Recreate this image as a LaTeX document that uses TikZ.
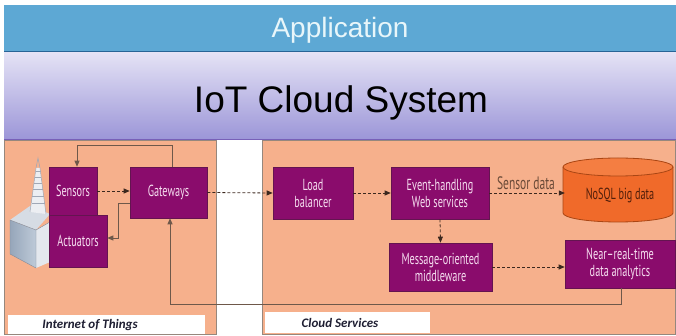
\documentclass[tikz,border=0pt]{standalone}
\usepackage{fontspec}
\setmainfont{Liberation Sans}
\newfontfamily\boxfont[FakeStretch=0.64]{PT Sans}
\newfontfamily\tagfont{Carlito}
\usetikzlibrary{arrows.meta,calc}

\definecolor{appblue}{RGB}{93,168,212}
\definecolor{appline}{RGB}{40,100,150}
\definecolor{apptext}{RGB}{232,246,250}
\definecolor{lavtop}{RGB}{228,226,245}
\definecolor{lavbot}{RGB}{156,150,216}
\definecolor{lavline}{RGB}{120,96,184}
\definecolor{panel}{RGB}{246,176,140}
\definecolor{panelline}{RGB}{150,135,125}
\definecolor{boxfill}{RGB}{138,12,108}
\definecolor{boxline}{RGB}{100,20,80}
\definecolor{boxtext}{RGB}{246,222,240}
\definecolor{arrowc}{RGB}{60,40,30}
\definecolor{loopc}{RGB}{110,88,74}
\definecolor{dbfill}{RGB}{240,106,42}
\definecolor{dbtop}{RGB}{244,126,66}
\definecolor{dbline}{RGB}{170,70,20}
\definecolor{dbtext}{RGB}{80,30,10}
\definecolor{sdtext}{RGB}{106,74,56}
\definecolor{tagtext}{RGB}{30,30,50}
\definecolor{towerline}{RGB}{160,168,182}
\definecolor{towerfill}{RGB}{236,238,242}
\definecolor{faceline}{RGB}{130,138,152}
\definecolor{faceleft}{RGB}{150,166,186}
\definecolor{faceleftlight}{RGB}{190,202,216}
\definecolor{facetop}{RGB}{214,220,228}
\definecolor{faceright}{RGB}{228,232,238}

\tikzset{
  comp/.style={draw=boxline, line width=0.6pt, fill=boxfill, text=boxtext,
    font=\boxfont\fontsize{16}{17}\selectfont, align=center, inner sep=0pt},
  flow/.style={draw=arrowc, line width=0.8pt, dash pattern=on 3pt off 2pt,
    -{Triangle[length=6pt,width=5pt]}},
  feedback/.style={draw=loopc, line width=0.9pt, -{Triangle[length=6pt,width=5pt]}},
  tagbox/.style={fill=white, inner sep=0pt, anchor=north west},
  tagword/.style={text=tagtext, font=\tagfont\bfseries\itshape\fontsize{13}{13}\selectfont, inner sep=0pt}
}

\begin{document}
\begin{tikzpicture}[x=1pt,y=-1pt]
\useasboundingbox (0,0) rectangle (676,336);

% application layer
\fill[appblue] (4,5) rectangle (676,51);
\draw[appline, line width=2pt] (4,52) -- (676,52);
\node[anchor=base, text=apptext, font=\fontsize{28}{28}\selectfont] (app) at (340,38) {Application};

% cloud system layer
\shade[top color=lavtop, bottom color=lavbot] (4,53) rectangle (676,139);
\draw[lavline, line width=1.5pt] (4,139.5) -- (676,139.5);
\node[anchor=base, text=black, font=\fontsize{37}{37}\selectfont] (sys) at (341,113) {IoT Cloud System};

% the two panels
\draw[panelline, fill=panel, line width=0.8pt] (4,140.5) rectangle (216,334);
\draw[panelline, fill=panel, line width=0.8pt] (262,140.5) rectangle (675,334);

% device: box with antenna mast
\fill[faceright] (36,230) -- (50,222) -- (50,262) -- (36,268) -- cycle;
\shade[left color=faceleft, right color=faceleftlight] (10,220) -- (36,230) -- (36,268) -- (10,254) -- cycle;
\fill[facetop] (10,220) -- (30,206) -- (50,214) -- (36,230) -- cycle;
\draw[faceline, line width=0.4pt] (10,220) -- (36,230) -- (50,222) (36,230) -- (36,268) (10,220) -- (10,254) -- (36,268);
\fill[towerfill] (30,212) -- (36,168) -- (40,168) -- (46,214) -- cycle;
\draw[towerline, line width=0.5pt] (30,212) -- (36,168) -- (38,158) -- (40,168) -- (46,214);
\foreach \yy/\hw in {172/2.5, 178/3.2, 184/4, 190/4.8, 197/5.6, 204/6.5}
  \draw[towerline, line width=1pt] (38-\hw,\yy) -- (38+\hw,\yy);

% components
\node[comp, minimum width=58, minimum height=52] (act) at (78,241) {Actuators};
\node[comp, minimum width=48, minimum height=48] (sens) at (73,191) {Sensors};
\node[comp, minimum width=77, minimum height=51] (gw) at (168.5,192.5) {Gateways};
\node[comp, minimum width=80, minimum height=52] (lb) at (313,193) {Load\\balancer};
\node[comp, minimum width=98, minimum height=52] (ev) at (440,193) {Event-handling\\Web services};
\node[comp, minimum width=103, minimum height=48] (msg) at (440.5,267) {Message-oriented\\middleware};
\node[comp, minimum width=110, minimum height=48] (nrt) at (620,264) {Near–real-time\\data analytics};

% NoSQL store
\fill[dbfill] (563,167) -- (563,213) arc[start angle=180, end angle=360, x radius=55pt, y radius=9pt]
  -- (673,167) arc[start angle=0, end angle=180, x radius=55pt, y radius=9pt] -- cycle;
\draw[dbline, line width=0.8pt] (563,167) -- (563,213) arc[start angle=180, end angle=360, x radius=55pt, y radius=9pt] -- (673,167);
\draw[dbline, fill=dbtop, line width=0.8pt] (618,167) ellipse[x radius=55pt, y radius=9pt];
\node[text=dbtext, font=\boxfont\fontsize{16}{16}\selectfont, minimum width=110, minimum height=40, inner sep=0pt] (nosql) at (620,196) {NoSQL big data};

\node[text=sdtext, font=\boxfont\fontsize{18}{18}\selectfont] (sdlabel) at (526,183) {Sensor data};

% data flow
\draw[flow] (sens.east) -- (sens.east -| gw.west);
\draw[flow] (gw.east) -- (lb.west);
\draw[flow] (lb.east) -- (ev.west);
\draw[flow] (ev.east) -- (ev.east -| nosql.west);
\draw[flow] (ev.south) -- (msg.north);
\draw[flow] (msg.east) -- (msg.east -| nrt.west);

% control and feedback
\draw[feedback] (gw.north -| 172,0) -- (172,145) -| (sens.north -| 77,0);
\draw[feedback] (gw.west |- 0,203) -- (118,203) -- (118,238) -- (act.east |- 0,238);
\draw[feedback] (nrt.south -| 621,0) -- (621,304) -| (gw.south -| 170,0);

% panel captions
\node[tagbox, minimum width=197, minimum height=19] (iottag) at (8,315) {};
\node[tagword] (iotword) at (90,325) {Internet of Things};
\node[tagbox, minimum width=165, minimum height=21] (cloudtag) at (265,312) {};
\node[tagword] (cloudword) at (340,323) {Cloud Services};
\end{tikzpicture}
\end{document}
